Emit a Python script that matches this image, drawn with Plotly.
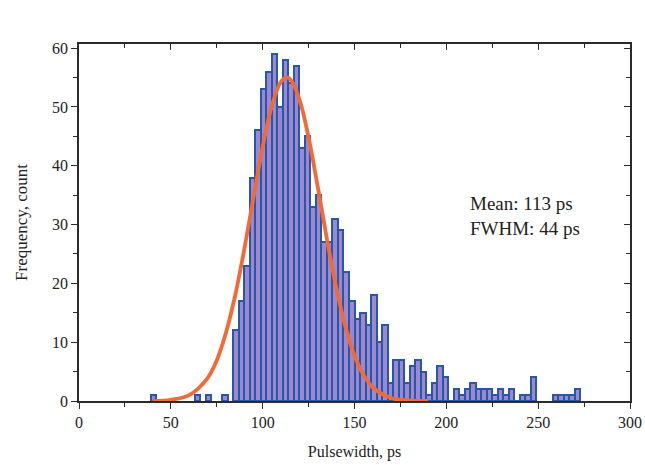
import plotly.graph_objects as go

# Histogram bins (3 ps wide), centres and counts
bin_centers = [40.5, 64.5, 70.5, 79.5,
               85.5, 88.5, 91.5, 94.5, 97.5, 100.5, 103.5, 106.5, 109.5, 112.5,
               115.5, 118.5, 121.5, 124.5, 127.5, 130.5, 133.5, 136.5, 139.5, 142.5,
               145.5, 148.5, 151.5, 154.5, 157.5, 160.5, 163.5, 166.5, 169.5, 172.5,
               175.5, 178.5, 181.5, 184.5, 187.5, 190.5, 193.5, 196.5, 199.5, 202.5,
               205.5, 208.5, 211.5, 214.5, 217.5, 220.5, 223.5, 226.5, 229.5, 232.5,
               235.5, 238.5, 241.5, 244.5, 247.5, 259.5, 262.5, 265.5, 268.5, 271.5]
counts = [1, 1, 1, 1,
          12, 17, 23, 38, 46, 53, 56, 59, 50, 58,
          54, 57, 43, 45, 33, 35, 27, 27, 31, 29,
          22, 17, 14, 15, 13, 18, 10, 13, 3, 7,
          7, 3, 6, 7, 5, 1, 3, 6, 4, 0,
          2, 1, 2, 3, 2, 2, 2, 1, 2, 1,
          2, 0, 1, 1, 4, 1, 1, 1, 1, 2]

# Gaussian fit curve
fit_x = [40, 50, 60, 70, 75, 80, 85, 90, 95, 100, 105, 110, 113, 115, 120,
         125, 130, 135, 140, 145, 150, 155, 160, 170, 180, 190]
fit_y = [0.0, 0.2, 1.0, 3.9, 6.9, 11.6, 17.9, 25.8, 34.6, 43.2, 50.2, 54.3, 55.0, 54.7, 51.3,
         44.8, 36.4, 27.5, 19.4, 12.7, 7.7, 4.4, 2.3, 0.5, 0.1, 0.0]

x_ticks = [0, 50, 100, 150, 200, 250, 300]
y_ticks = [0, 10, 20, 30, 40, 50, 60]
stats_text = "Mean: 113 ps<br>FWHM: 44 ps"

FONT = "Liberation Serif, Times New Roman, serif"
AX = "#2b2b2b"

fig = go.Figure()
fig.add_trace(go.Bar(
    x=bin_centers, y=counts, width=3,
    marker=dict(color="#9b88d0", line=dict(color="#2857a8", width=2)),
    showlegend=False,
))
fig.add_trace(go.Scatter(
    x=fit_x, y=fit_y, mode="lines",
    line=dict(color="#f26a36", width=3.8, shape="spline"),
    showlegend=False,
))
# dummy trace to show mirrored axes with inside ticks
fig.add_trace(go.Scatter(x=[None], y=[None], xaxis="x2", yaxis="y2",
                         showlegend=False, hoverinfo="skip"))

fig.update_layout(
    width=645, height=465,
    margin=dict(l=79, r=15, t=44, b=64),
    paper_bgcolor="white", plot_bgcolor="white",
    font=dict(family=FONT, size=16, color="#222"),
    bargap=0,
    xaxis=dict(
        range=[0, 300], tickvals=x_ticks, ticks="outside", ticklen=6,
        tickwidth=1.3, tickcolor=AX, showline=True, linecolor=AX, linewidth=1.5,
        showgrid=False, zeroline=False, automargin=False,
        minor=dict(dtick=25, ticks="outside", ticklen=4, tickcolor=AX),
        title=dict(text="Pulsewidth, ps", font=dict(size=16), standoff=16),
        tickfont=dict(size=16),
    ),
    yaxis=dict(
        range=[0, 60.7], tickvals=y_ticks, ticks="outside", ticklen=6,
        tickwidth=1.3, tickcolor=AX, showline=True, linecolor=AX, linewidth=1.5,
        showgrid=False, zeroline=False, automargin=False,
        minor=dict(dtick=5, ticks="outside", ticklen=4, tickcolor=AX),
        title=dict(text="Frequency, count", font=dict(size=17), standoff=20),
        tickfont=dict(size=16),
    ),
    xaxis2=dict(
        overlaying="x", side="top", anchor="y2", range=[0, 300], tickvals=x_ticks,
        ticks="inside", ticklen=6, tickcolor=AX, showticklabels=False, automargin=False,
        showline=True, linecolor=AX, linewidth=1.5, showgrid=False, zeroline=False,
        minor=dict(dtick=25, ticks="inside", ticklen=4, tickcolor=AX),
    ),
    yaxis2=dict(
        overlaying="y", side="right", anchor="x2", range=[0, 60.7], tickvals=y_ticks,
        ticks="inside", ticklen=6, tickcolor=AX, showticklabels=False, automargin=False,
        showline=True, linecolor=AX, linewidth=1.5, showgrid=False, zeroline=False,
        minor=dict(dtick=5, ticks="inside", ticklen=4, tickcolor=AX),
    ),
    annotations=[dict(
        x=212, y=31.4, xref="x", yref="y", text=stats_text, showarrow=False,
        xanchor="left", yanchor="middle", align="left",
        font=dict(size=19, color="#222", family=FONT),
    )],
)

fig.write_html(
    "out.html",
    config={"displayModeBar": False},
    post_script="document.body.style.margin='0';document.body.style.overflow='hidden';",
)
